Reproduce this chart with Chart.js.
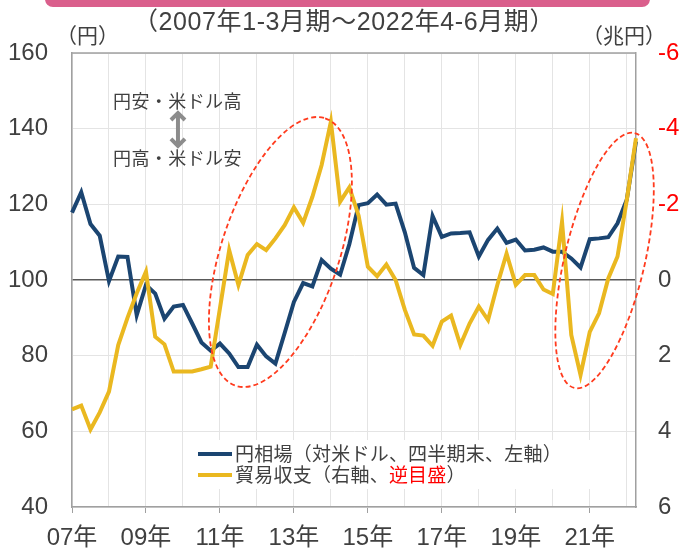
<!DOCTYPE html>
<html><head><meta charset="utf-8">
<script src="https://cdn.jsdelivr.net/npm/chart.js@4/dist/chart.umd.min.js"></script>
<style>html,body{margin:0;padding:0;background:#fff}canvas{display:block}</style>
</head><body>
<canvas id="c" width="683" height="548" style="width:683px;height:548px"></canvas>
<script>
const quarters = [
 '2007Q1','2007Q2','2007Q3','2007Q4','2008Q1','2008Q2','2008Q3','2008Q4',
 '2009Q1','2009Q2','2009Q3','2009Q4','2010Q1','2010Q2','2010Q3','2010Q4',
 '2011Q1','2011Q2','2011Q3','2011Q4','2012Q1','2012Q2','2012Q3','2012Q4',
 '2013Q1','2013Q2','2013Q3','2013Q4','2014Q1','2014Q2','2014Q3','2014Q4',
 '2015Q1','2015Q2','2015Q3','2015Q4','2016Q1','2016Q2','2016Q3','2016Q4',
 '2017Q1','2017Q2','2017Q3','2017Q4','2018Q1','2018Q2','2018Q3','2018Q4',
 '2019Q1','2019Q2','2019Q3','2019Q4','2020Q1','2020Q2','2020Q3','2020Q4',
 '2021Q1','2021Q2','2021Q3','2021Q4','2022Q1','2022Q2'];
// 円相場（対米ドル、四半期末、円）
const yenRate = [117.8,123.2,114.8,111.7, 99.7,106.2,106.1,90.7, 98.7,96.4,89.8,93.0, 93.4,88.5,83.5,81.3,
 83.2,80.6,77.0,77.0, 82.9,79.8,77.9,86.0, 94.2,99.2,98.3,105.3, 103.0,101.4,109.5,119.8,
 120.3,122.6,119.9,120.2, 112.6,103.2,101.3,116.9, 111.4,112.3,112.4,112.6, 106.2,110.6,113.6,109.8,
 110.7,107.8,108.0,108.6, 107.5,107.5,105.7,103.3, 110.8,111.0,111.3,115.0, 121.2,136.6];
// 貿易収支（兆円）
const tradeBalance = [3.42,3.32,3.95,3.50, 2.95,1.72,1.00,0.35, -0.22,1.50,1.70,2.42, 2.42,2.42,2.36,2.29,
 0.75,-0.79,0.13,-0.66, -0.95,-0.79,-1.10,-1.45, -1.92,-1.51,-2.20,-3.04, -4.18,-2.07,-2.45,-1.70,
 -0.35,-0.10,-0.41,0.00, 0.79,1.44,1.47,1.74, 1.10,0.94,1.72,1.15, 0.70,1.06,0.13,-0.70,
 0.13,-0.13,-0.13,0.25, 0.37,-1.54,1.45,2.51, 1.37,0.88,-0.04,-0.62, -2.11,-3.75];
const leftTicks = [40,60,80,100,120,140,160];
const rightTicks = [-6,-4,-2,0,2,4,6];

const titleText = '（2007年1-3月期～2022年4-6月期）';
const leftUnit = '（円）';
const rightUnit = '（兆円）';
const seriesNames = ['円相場（対米ドル、四半期末、左軸）', '貿易収支（右軸、', '逆目盛', '）'];
const noteTop = '円安・米ドル高';
const noteBottom = '円高・米ドル安';

const BLUE = '#1B4571', GOLD = '#EAB820', RED_DASH = '#FF3B1E', TXT = '#404040';
const FONT = "'Liberation Sans','Noto Sans CJK JP',sans-serif";
const JFONT = "'Noto Sans CJK JP','Liberation Sans',sans-serif";

// highlight ellipses: center in data units (category index, left-axis value), radii px, rotation deg
const ellipses = [
  {ci: 22.54, cv: 107.4, rx: 141, ry: 58.8, rot: -71.5},
  {ci: 57.6, cv: 105.15, rx: 131, ry: 40, rot: -76.7}
];

const isQ1 = i => quarters[i] && quarters[i].endsWith('Q1');
const isOddQ1 = i => isQ1(i) && (+quarters[i].slice(2,4)) % 2 === 1;

function spacingFor(ctx, text, width) {
  ctx.letterSpacing = '0px';
  const w = ctx.measureText(text).width;
  return Math.max(0, (width - w) / [...text].length);
}

const deco = {
  id: 'deco',
  beforeDatasetsDraw(chart) {
    const ctx = chart.ctx, a = chart.chartArea;
    ctx.save();
    ctx.fillStyle = '#fff';
    ctx.fillRect(a.left + 119, a.top + 387, 400, 49);
    ctx.restore();
  },
  afterDraw(chart) {
    const ctx = chart.ctx, a = chart.chartArea;
    const ys = chart.scales.y;
    ctx.save();
    ctx.strokeStyle = '#a0a0a0'; ctx.lineWidth = 1.5;
    ctx.beginPath(); ctx.moveTo(a.left, a.top); ctx.lineTo(a.right, a.top); ctx.stroke();
    ctx.strokeStyle = RED_DASH; ctx.lineWidth = 1.8; ctx.setLineDash([5, 3]);
    ellipses.forEach(e => {
      const px = a.left + (a.right - a.left) * e.ci / (quarters.length - 1);
      const py = ys.getPixelForValue(e.cv);
      ctx.beginPath();
      ctx.ellipse(px, py, e.rx, e.ry, e.rot * Math.PI / 180, 0, Math.PI * 2);
      ctx.stroke();
    });
    ctx.setLineDash([]);
    ctx.fillStyle = '#DA5F8C';
    ctx.beginPath(); ctx.roundRect(45, -12, 605, 19, 8); ctx.fill();
    ctx.fillStyle = TXT; ctx.textBaseline = 'middle'; ctx.textAlign = 'left';
    ctx.font = '25px ' + FONT;
    let sp = spacingFor(ctx, titleText, 422);
    ctx.letterSpacing = sp + 'px';
    ctx.fillText(titleText, 133, 23);
    ctx.font = '21px ' + FONT;
    sp = spacingFor(ctx, leftUnit, 44); ctx.letterSpacing = sp + 'px';
    ctx.fillText(leftUnit, 56, 37);
    sp = spacingFor(ctx, rightUnit, 68); ctx.letterSpacing = sp + 'px';
    ctx.fillText(rightUnit, 582, 37);
    const nx = a.left + (a.right - a.left) * 11.46 / (quarters.length - 1);
    ctx.font = '18px ' + JFONT;
    sp = spacingFor(ctx, noteTop, 129); ctx.letterSpacing = sp + 'px';
    ctx.fillText(noteTop, nx - 65, ys.getPixelForValue(147.2));
    ctx.fillText(noteBottom, nx - 65, ys.getPixelForValue(132.2));
    ctx.letterSpacing = '0px';
    const y1 = ys.getPixelForValue(144.4), y2 = ys.getPixelForValue(135.2);
    ctx.strokeStyle = '#8c8c8c'; ctx.lineWidth = 4; ctx.lineCap = 'butt'; ctx.lineJoin = 'miter';
    ctx.beginPath(); ctx.moveTo(nx, y1 + 2); ctx.lineTo(nx, y2 - 2); ctx.stroke();
    ctx.beginPath(); ctx.moveTo(nx - 7, y1 + 8); ctx.lineTo(nx, y1 + 1); ctx.lineTo(nx + 7, y1 + 8); ctx.stroke();
    ctx.beginPath(); ctx.moveTo(nx - 7, y2 - 8); ctx.lineTo(nx, y2 - 1); ctx.lineTo(nx + 7, y2 - 8); ctx.stroke();
    const lx = a.left + 126, ly1 = a.top + 401, ly2 = a.top + 422;
    ctx.lineWidth = 4;
    ctx.strokeStyle = BLUE; ctx.beginPath(); ctx.moveTo(lx, ly1); ctx.lineTo(lx + 34, ly1); ctx.stroke();
    ctx.strokeStyle = GOLD; ctx.beginPath(); ctx.moveTo(lx, ly2); ctx.lineTo(lx + 34, ly2); ctx.stroke();
    ctx.font = '19px ' + JFONT; ctx.textAlign = 'left'; ctx.fillStyle = TXT;
    sp = spacingFor(ctx, seriesNames[0], 327);
    ctx.letterSpacing = sp + 'px';
    let tx = lx + 37;
    ctx.fillText(seriesNames[0], tx, ly1);
    ctx.fillText(seriesNames[1], tx, ly2); tx += ctx.measureText(seriesNames[1]).width;
    ctx.fillStyle = '#FF0000'; ctx.fillText(seriesNames[2], tx, ly2); tx += ctx.measureText(seriesNames[2]).width;
    ctx.fillStyle = TXT; ctx.fillText(seriesNames[3], tx, ly2);
    ctx.restore();
  }
};

new Chart(document.getElementById('c'), {
  type: 'line',
  data: {
    labels: quarters,
    datasets: [
      {label: '貿易収支', data: tradeBalance, yAxisID: 'y2', borderColor: GOLD, borderWidth: 4, pointRadius: 0, tension: 0, fill: false},
      {label: '円相場', data: yenRate, yAxisID: 'y', borderColor: BLUE, borderWidth: 4, pointRadius: 0, tension: 0, fill: false}
    ]
  },
  options: {
    responsive: false, animation: false, devicePixelRatio: 1,
    layout: {padding: {top: 53, left: 0, right: 0, bottom: 0}},
    plugins: {legend: {display: false}, tooltip: {enabled: false}, title: {display: false}},
    scales: {
      x: {
        type: 'category', offset: false,
        grid: {
          offset: false, drawTicks: true, tickLength: 6,
          color: c => isQ1(c.index) ? '#e4e4e4' : 'rgba(0,0,0,0)',
          tickColor: c => isOddQ1(c.index) ? '#a0a0a0' : 'rgba(0,0,0,0)',
          lineWidth: 1
        },
        border: {color: '#a0a0a0', width: 1.5},
        ticks: {
          autoSkip: false, maxRotation: 0, minRotation: 0, padding: 11,
          color: TXT, font: {family: FONT, size: 24},
          callback: (v, i) => isOddQ1(i) ? quarters[i].slice(2,4) + '年' : ''
        },
        afterFit: s => { s.height = 41; }
      },
      y: {
        position: 'left', min: leftTicks[0], max: leftTicks[leftTicks.length-1],
        afterBuildTicks: s => { s.ticks = leftTicks.map(v => ({value: v})); },
        grid: {drawTicks: false,
          color: c => c.tick && c.tick.value === 100 ? '#595959' : '#e4e4e4',
          lineWidth: c => c.tick && c.tick.value === 100 ? 1.5 : 1},
        border: {color: '#a0a0a0', width: 1.5},
        ticks: {padding: 24, color: TXT, font: {family: FONT, size: 24}},
        afterFit: s => { s.width = 72; }
      },
      y2: {
        position: 'right', reverse: true, min: rightTicks[0], max: rightTicks[rightTicks.length-1],
        afterBuildTicks: s => { s.ticks = rightTicks.map(v => ({value: v})); },
        grid: {drawOnChartArea: false, drawTicks: false},
        border: {color: '#a0a0a0', width: 1.5},
        ticks: {padding: 22, font: {family: FONT, size: 24},
          color: c => c.tick && c.tick.value < 0 ? '#FF0000' : TXT},
        afterFit: s => { s.width = 47; }
      }
    }
  },
  plugins: [deco]
});
</script>
</body></html>
